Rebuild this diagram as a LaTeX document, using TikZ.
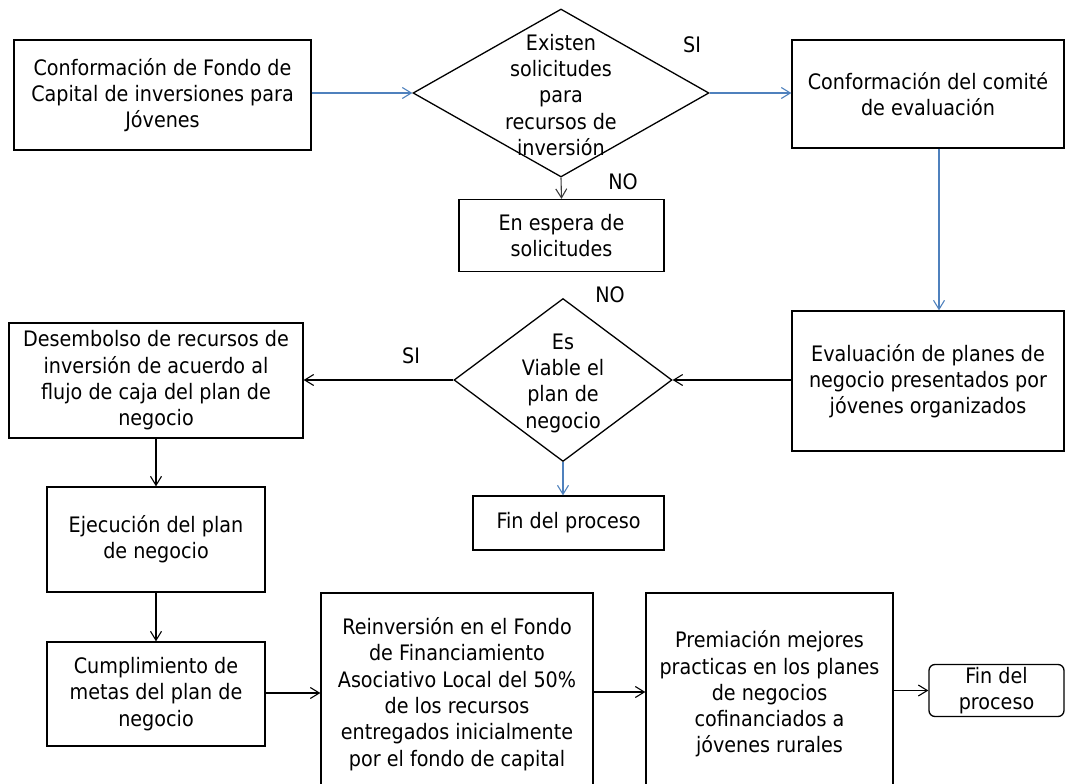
\documentclass[tikz,border=0pt]{standalone}
\usepackage{fontspec}
\setmainfont{DejaVu Sans}[FakeStretch=0.9]
\usetikzlibrary{arrows.meta,shapes.geometric,calc}
\definecolor{flowblue}{RGB}{79,129,189}
\definecolor{flowgray}{RGB}{60,60,60}
\tikzset{
  txt/.style={font=\fontsize{21.3}{26.3}\selectfont, align=center, inner sep=0pt},
  box/.style={draw=black, line width=1.3pt, rectangle, inner sep=0pt, txt},
  rbox/.style={box, rounded corners=6pt},
  dia/.style={draw=black, line width=1.3pt, diamond, inner sep=0pt},
  lbl/.style={font=\fontsize{21.3}{26.3}\selectfont, inner sep=0pt},
  arr/.style={line width=1.1pt, -{Straight Barb[length=9pt,width=11pt]}},
  barr/.style={arr, draw=flowblue},
  karr/.style={arr, draw=black},
  garr/.style={arr, draw=flowgray}
}
\begin{document}
\begin{tikzpicture}[x=1pt,y=-1pt]
\useasboundingbox (0,0) rectangle (1077,784);
% boxes
\node[box, minimum width=297pt, minimum height=110pt] (b1) at (162.5,95) {Conformación de Fondo de\\Capital de inversiones para\\Jóvenes};
\node[dia, minimum width=296pt, minimum height=168pt] (d1) at (561,93) {};
\node[txt] (d1t) at (561,95) {Existen\\solicitudes\\para\\recursos de\\inversión};
\node[box, minimum width=272pt, minimum height=108pt] (b2) at (928,94) {Conformación del comité\\de evaluación};
\node[box, minimum width=205pt, minimum height=72pt] (w) at (561.5,235.5) {En espera de\\solicitudes};
\node[box, minimum width=272pt, minimum height=140pt] (b3) at (928,381) {Evaluación de planes de\\negocio presentados por\\jóvenes organizados};
\node[dia, minimum width=218pt, minimum height=163pt] (d2) at (563,380) {};
\node[txt] (d2t) at (563,383) {Es\\Viable el\\plan de\\negocio};
\node[box, minimum width=294pt, minimum height=115pt] (b4) at (156,380.5) {Desembolso de recursos de\\inversión de acuerdo al\\flujo de caja del plan de\\negocio};
\node[box, minimum width=191pt, minimum height=54pt] (f1) at (568.5,523) {Fin del proceso};
\node[box, minimum width=218pt, minimum height=105pt] (b5) at (156,539.5) {Ejecución del plan\\de negocio};
\node[box, minimum width=218pt, minimum height=104pt] (b6) at (156,694) {Cumplimiento de\\metas del plan de\\negocio};
\node[box, minimum width=272pt, minimum height=202pt] (b7) at (457,694) {Reinversión en el Fondo\\de Financiamiento\\Asociativo Local del 50\%\\de los recursos\\entregados inicialmente\\por el fondo de capital};
\node[box, minimum width=247pt, minimum height=202pt] (b8) at (769.5,694) {Premiación mejores\\practicas en los planes\\de negocios\\cofinanciados a\\jóvenes rurales};
\node[rbox, minimum width=135pt, minimum height=52pt] (f2) at (996.5,690.5) {Fin del\\proceso};
% labels
\node[lbl] (l1) at (692,45) {SI};
\node[lbl] (l2) at (623,182) {NO};
\node[lbl] (l3) at (610,295) {NO};
\node[lbl] (l4) at (411,356) {SI};
% connectors
\draw[barr] (b1.east |- d1.west) -- (d1.west);
\draw[barr] (d1.east) -- (d1.east -| b2.west);
\draw[garr] (d1.south) -- (w.north);
\draw[barr] ($(b2.south)+(11,0)$) -- ($(b3.north)+(11,0)$);
\draw[karr] (b3.west |- d2.east) -- (d2.east);
\draw[karr] (d2.west) -- (d2.west -| b4.east);
\draw[barr] (d2.south) -- (d2.south |- f1.north);
\draw[karr] (b4.south) -- (b5.north);
\draw[karr] (b5.south) -- (b6.north);
\draw[karr] ($(b6.east)+(0,-1)$) -- ($(b7.west)+(0,-1)$);
\draw[karr] ($(b7.east)+(0,-2)$) -- ($(b8.west)+(0,-2)$);
\draw[karr] (b8.east |- f2.west) -- (f2.west);
\end{tikzpicture}
\end{document}
